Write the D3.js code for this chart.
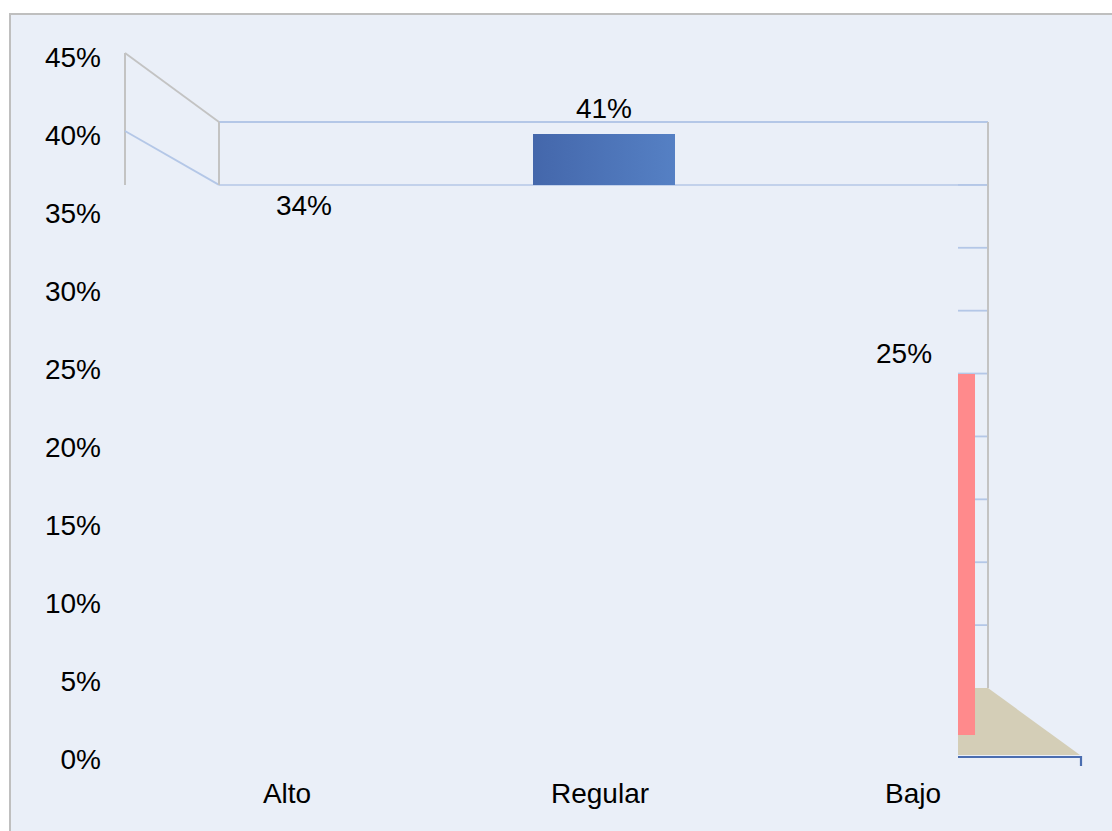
<!DOCTYPE html>
<html>
<head>
<meta charset="utf-8">
<script src="https://cdn.jsdelivr.net/npm/d3@7/dist/d3.min.js"></script>
<style>
  html, body { margin: 0; padding: 0; background: #ffffff; }
  svg { display: block; }
  text { font-family: "Liberation Sans", Arial, sans-serif; fill: #000; }
</style>
</head>
<body>
<svg id="chart" width="1112" height="831"></svg>
<script>
// Share of responses per level
const categories = ["Alto", "Regular", "Bajo"];
const values = [34, 41, 25];
const valueLabels = ["34%", "41%", "25%"];
const yTicks = [0, 5, 10, 15, 20, 25, 30, 35, 40, 45];
const wallTicks = [5, 10, 15, 20, 25, 30, 35, 40];

const svg = d3.select("#chart");
const W = 1112, H = 831;
const FONT = "28px";

// chart area
svg.append("rect")
  .attr("x", 10).attr("y", 14).attr("width", W + 10).attr("height", H + 10)
  .attr("fill", "#eaeff8").attr("stroke", "#bfbfbf").attr("stroke-width", 2);

// value axis (front face)
const y = d3.scaleLinear().domain([0, 45]).range([755, 53]);
// value scale of the right wall
const yWall = d3.scaleLinear().domain([0, 45]).range([688, 122]);
// bar heights in the projected plot
const yBar = d3.scaleLinear().domain([25, 41]).range([374, 134]);

// category positions
const xCat = d3.scalePoint().domain(categories).range([287, 913]);
const xBar = d3.scaleBand().domain(categories).range([154, 1054]).paddingInner(0.5267).paddingOuter(0.2633);

// y axis tick labels
const yAxis = d3.axisLeft(y).tickValues(yTicks).tickFormat(d => d + "%").tickSize(0).tickPadding(0);
const gy = svg.append("g").attr("transform", "translate(101,5)").call(yAxis);
gy.select(".domain").remove();
gy.selectAll("text")
  .style("font-family", '"Liberation Sans", Arial, sans-serif')
  .style("font-size", FONT).attr("fill", "#000");

const grid = "#b4c7e7", wall = "#c3c3c3";
const wallTop = yWall(45), bandBottom = yWall(40);
const xLeft = 125, xBack = 219, xRight = 988, xRightIn = 958;

// floor
svg.append("polygon")
  .attr("points", [[xRightIn, yWall(0)], [xRight, yWall(0)], [1080, y(0)], [xRightIn, y(0)]].map(p => p.join(",")).join(" "))
  .attr("fill", "#d4ceb7");

// back wall band lines
svg.append("line").attr("x1", xBack).attr("x2", xRight).attr("y1", wallTop).attr("y2", wallTop)
  .attr("stroke", grid).attr("stroke-width", 2.2);
svg.append("line").attr("x1", xBack).attr("x2", xRight).attr("y1", bandBottom).attr("y2", bandBottom)
  .attr("stroke", grid).attr("stroke-width", 1.5);

// right wall gridline stubs
svg.append("g").selectAll("line").data(wallTicks).join("line")
  .attr("x1", xRightIn).attr("x2", xRight)
  .attr("y1", d => yWall(d)).attr("y2", d => yWall(d))
  .attr("stroke", grid).attr("stroke-width", 1.8);

// left wall
svg.append("line").attr("x1", xLeft).attr("x2", xLeft).attr("y1", y(45)).attr("y2", bandBottom)
  .attr("stroke", wall).attr("stroke-width", 2);
svg.append("line").attr("x1", xLeft).attr("x2", xBack).attr("y1", y(45)).attr("y2", wallTop)
  .attr("stroke", wall).attr("stroke-width", 1.8);
svg.append("line").attr("x1", xLeft).attr("x2", xBack).attr("y1", y(40)).attr("y2", bandBottom)
  .attr("stroke", grid).attr("stroke-width", 1.8);
svg.append("line").attr("x1", xBack).attr("x2", xBack).attr("y1", wallTop).attr("y2", bandBottom)
  .attr("stroke", wall).attr("stroke-width", 2);

// right wall edge
svg.append("line").attr("x1", xRight).attr("x2", xRight).attr("y1", wallTop).attr("y2", yWall(0))
  .attr("stroke", wall).attr("stroke-width", 2);

// bars are visible through the back band and the right wall strip only
const defs = svg.append("defs");
const clip = defs.append("clipPath").attr("id", "plotClip");
clip.append("rect").attr("x", xBack).attr("y", wallTop).attr("width", xRight - xBack).attr("height", bandBottom - wallTop);
clip.append("rect").attr("x", xRightIn).attr("y", bandBottom).attr("width", xRight - xRightIn).attr("height", 735 - bandBottom);

const grad = defs.append("linearGradient").attr("id", "blueBar").attr("x1", "0%").attr("x2", "100%").attr("y1", "0%").attr("y2", "0%");
grad.append("stop").attr("offset", "0%").attr("stop-color", "#4467ab");
grad.append("stop").attr("offset", "100%").attr("stop-color", "#5580c4");

const barFill = { "Alto": "url(#blueBar)", "Regular": "url(#blueBar)", "Bajo": "#ff8a8c" };

svg.append("g").attr("clip-path", "url(#plotClip)")
  .selectAll("rect").data(categories).join("rect")
  .attr("x", d => xBar(d))
  .attr("width", xBar.bandwidth())
  .attr("y", (d, i) => yBar(values[i]))
  .attr("height", (d, i) => 760 - yBar(values[i]))
  .attr("fill", d => barFill[d]);

// category axis line
svg.append("path")
  .attr("d", `M${xRightIn},${y(0) + 2}H1081V766`)
  .attr("fill", "none").attr("stroke", "#4a6db0").attr("stroke-width", 2.2);

// data labels
const labelNudge = { "Alto": 6, "Regular": -6, "Bajo": -2 };
svg.append("g").selectAll("text").data(categories).join("text")
  .attr("x", d => xBar(d) + xBar.bandwidth() / 2)
  .attr("y", (d, i) => y(values[i]) - 11 - labelNudge[d])
  .attr("text-anchor", "middle").attr("dominant-baseline", "middle")
  .style("font-size", FONT)
  .text((d, i) => valueLabels[i]);

// category labels
svg.append("g").selectAll("text").data(categories).join("text")
  .attr("x", d => xCat(d)).attr("y", 796)
  .attr("text-anchor", "middle").attr("dominant-baseline", "middle")
  .style("font-size", FONT)
  .text(d => d);
</script>
</body>
</html>
